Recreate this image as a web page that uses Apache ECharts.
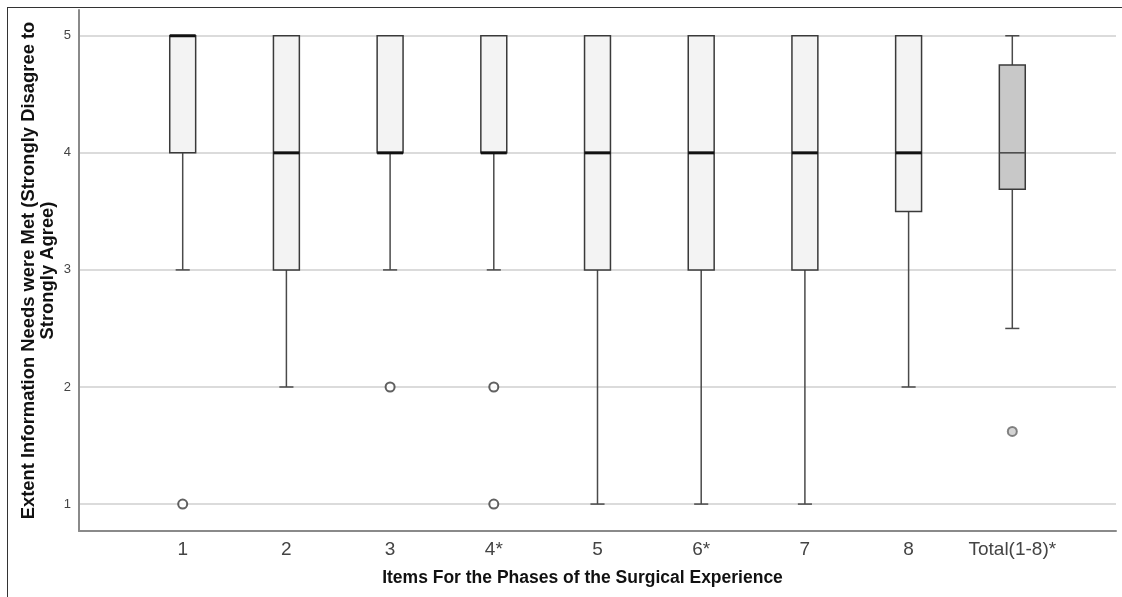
<!DOCTYPE html>
<html>
<head>
<meta charset="utf-8">
<script src="https://cdn.jsdelivr.net/npm/echarts@6/dist/echarts.min.js"></script>
<style>
  html, body { margin: 0; padding: 0; background: #fff; }
  #frame { position: absolute; left: 7px; top: 7px; width: 1115px; height: 590px; border-left: 1.5px solid #333; border-top: 1.5px solid #333; box-sizing: border-box; }
  #chart { position: absolute; left: 0; top: 0; width: 1122px; height: 597px; }
</style>
</head>
<body>
<div id="frame"></div>
<div id="chart"></div>
<script>
// ---- data ----
const categories = ['1', '2', '3', '4*', '5', '6*', '7', '8', 'Total(1-8)*'];
const whiskerLow  = [3, 2, 3, 3, 1, 1, 1, 2, 2.5];
const quartile1   = [4, 3, 4, 4, 3, 3, 3, 3.5, 3.69];
const medians     = [5, 4, 4, 4, 4, 4, 4, 4, 4];
const quartile3   = [5, 5, 5, 5, 5, 5, 5, 5, 4.75];
const whiskerHigh = [5, 5, 5, 5, 5, 5, 5, 5, 5];
const outlierCats   = ['1', '3', '4*', '4*', 'Total(1-8)*'];
const outlierValues = [1, 2, 2, 1, 1.62];
const yTickValues = [1, 2, 3, 4, 5];
const xTitle = 'Items For the Phases of the Surgical Experience';
const yTitle = 'Extent Information Needs were Met (Strongly Disagree to\nStrongly Agree)';

// ---- build ----
const axisCats = [''].concat(categories, ['']);
const boxData = categories.map((c, i) => [c, whiskerLow[i], quartile1[i], medians[i], quartile3[i], whiskerHigh[i]]);
const outlierData = outlierCats.map((c, i) => ({
  value: [c, outlierValues[i]],
  itemStyle: c === 'Total(1-8)*' ? { color: '#c8c8c8', borderColor: '#666' } : { color: '#fff', borderColor: '#3a3a3a' }
}));

const font = 'Liberation Sans, Arial, sans-serif';

const chart = echarts.init(document.getElementById('chart'), null, { renderer: 'canvas' });
chart.setOption({
  animation: false,
  backgroundColor: 'transparent',
  grid: { left: 79, right: 6, top: 10, bottom: 66 },
  xAxis: {
    type: 'category',
    data: axisCats,
    boundaryGap: false,
    axisLine: { show: true, lineStyle: { color: '#8a8a8a', width: 2 } },
    axisTick: { show: false },
    axisLabel: { fontSize: 19, color: '#444', margin: 9, fontFamily: font, interval: 0, hideOverlap: false },
    splitLine: { show: false },
    name: xTitle,
    nameLocation: 'middle',
    nameGap: 38,
    nameMoveOverlap: false,
    nameTextStyle: { fontSize: 17.5, fontWeight: 'bold', color: '#111', fontFamily: font, padding: [0, 30, 0, 0] }
  },
  yAxis: {
    type: 'value',
    min: 0.77,
    max: 5.22,
    axisLine: { show: true, lineStyle: { color: '#8a8a8a', width: 2 } },
    axisTick: { show: false, customValues: yTickValues },
    axisLabel: { fontSize: 13, color: '#444', margin: 8, fontFamily: font, customValues: yTickValues },
    splitLine: { show: true, lineStyle: { color: '#cfcfcf', width: 1.5 } },
    name: yTitle,
    nameLocation: 'middle',
    nameRotate: 90,
    nameGap: 22,
    nameMoveOverlap: false,
    nameTextStyle: { fontSize: 18.4, fontWeight: 'bold', color: '#111', fontFamily: font, lineHeight: 19, align: 'center' }
  },
  series: [
    {
      type: 'custom',
      data: boxData,
      encode: { x: 0, y: [1, 2, 3, 4, 5] },
      renderItem: function (params, api) {
        const cat = api.value(0);
        const pMin = api.coord([cat, api.value(1)]);
        const pQ1 = api.coord([cat, api.value(2)]);
        const pMed = api.coord([cat, api.value(3)]);
        const pQ3 = api.coord([cat, api.value(4)]);
        const pMax = api.coord([cat, api.value(5)]);
        const band = api.size([1, 0])[0];
        const half = band * 0.125;
        const capHalf = band * 0.068;
        const x = pMin[0];
        const isTotal = params.dataIndex === categories.length - 1;
        const fill = isTotal ? '#c8c8c8' : '#f3f3f3';
        const lineColor = '#4a4a4a';
        const children = [
          { type: 'line', shape: { x1: x, y1: pMin[1], x2: x, y2: pQ1[1] }, style: { stroke: lineColor, lineWidth: 1.5 } },
          { type: 'line', shape: { x1: x, y1: pQ3[1], x2: x, y2: pMax[1] }, style: { stroke: lineColor, lineWidth: 1.5 } },
          { type: 'line', shape: { x1: x - capHalf, y1: pMin[1], x2: x + capHalf, y2: pMin[1] }, style: { stroke: lineColor, lineWidth: 1.5 } },
          { type: 'line', shape: { x1: x - capHalf, y1: pMax[1], x2: x + capHalf, y2: pMax[1] }, style: { stroke: lineColor, lineWidth: 1.5 } },
          { type: 'rect', shape: { x: x - half, y: pQ3[1], width: half * 2, height: pQ1[1] - pQ3[1] }, style: { fill: fill, stroke: '#3a3a3a', lineWidth: 1.5 } },
          { type: 'line', shape: { x1: x - half, y1: pMed[1], x2: x + half, y2: pMed[1] },
            style: isTotal ? { stroke: '#444', lineWidth: 1.5 } : { stroke: '#111', lineWidth: 3 } }
        ];
        return { type: 'group', children: children };
      },
      z: 3
    },
    {
      type: 'scatter',
      data: outlierData,
      symbol: 'circle',
      symbolSize: 9,
      itemStyle: { borderWidth: 2 },
      z: 4
    }
  ]
});
</script>
</body>
</html>
